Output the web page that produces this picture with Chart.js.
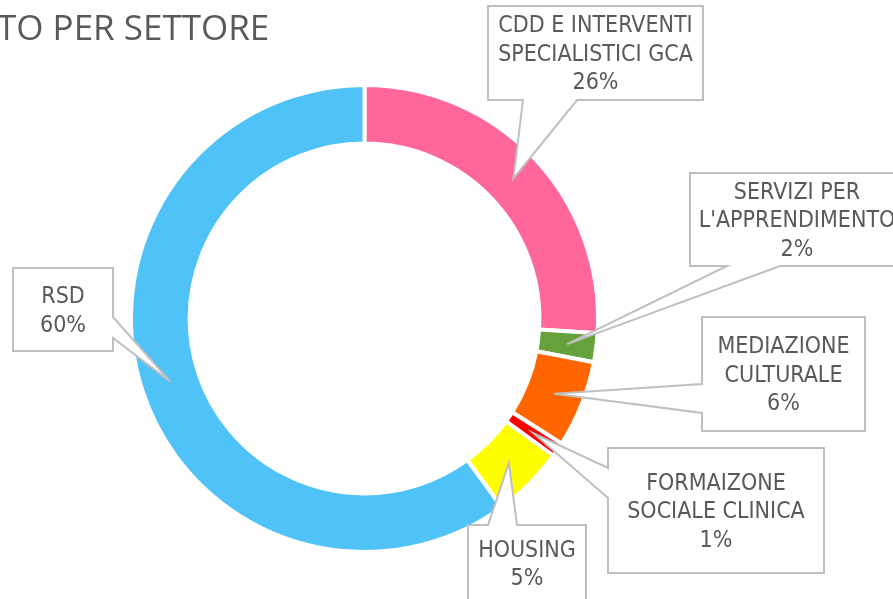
<!DOCTYPE html>
<html>
<head>
<meta charset="utf-8">
<script src="https://cdn.jsdelivr.net/npm/chart.js@4.4.0/dist/chart.umd.min.js"></script>
<style>
  html, body { margin: 0; padding: 0; background: #fff; overflow: hidden; }
  #wrap { position: relative; width: 893px; height: 599px; }
</style>
</head>
<body>
<div id="wrap"><canvas id="chart" width="893" height="599"></canvas></div>
<script>
// Sector names (one entry per label line) and their share of the total, in percent
const sectors = [
  ['CDD E INTERVENTI', 'SPECIALISTICI GCA'],
  ['SERVIZI PER', "L'APPRENDIMENTO"],
  ['MEDIAZIONE', 'CULTURALE'],
  ['FORMAIZONE', 'SOCIALE CLINICA'],
  ['HOUSING'],
  ['RSD'],
];
const shares = [26, 2, 6, 1, 5, 60];
const titleText = 'TO PER SETTORE';

const sliceColors = ['#FF6699', '#66A23C', '#FF6600', '#FF0000', '#FFFF00', '#4FC3F7'];
const textGrey = '#595959';
const lineGrey = '#BFBFBF';

// callout boxes: rectangle plus the side and span where the pointer leaves it
const calloutBoxes = [
  { x: 488, y: 6, w: 215, h: 94, side: 'bottom', base: [523, 577] },
  { x: 690, y: 173, w: 214, h: 93, side: 'bottom', base: [727, 780] },
  { x: 702, y: 317, w: 163, h: 114, side: 'left', base: [384, 413] },
  { x: 608, y: 448, w: 216, h: 125, side: 'left', base: [468, 498] },
  { x: 468, y: 525, w: 118, h: 76, side: 'top', base: [488, 517] },
  { x: 13, y: 268, w: 100, h: 83, side: 'right', base: [317, 338] },
];

function calloutPath(ctx, b, tip) {
  const L = b.x, T = b.y, R = b.x + b.w, B = b.y + b.h;
  const [p, q] = b.base;
  ctx.beginPath();
  ctx.moveTo(L, T);
  if (b.side === 'top') { ctx.lineTo(p, T); ctx.lineTo(tip.x, tip.y); ctx.lineTo(q, T); }
  ctx.lineTo(R, T);
  if (b.side === 'right') { ctx.lineTo(R, p); ctx.lineTo(tip.x, tip.y); ctx.lineTo(R, q); }
  ctx.lineTo(R, B);
  if (b.side === 'bottom') { ctx.lineTo(q, B); ctx.lineTo(tip.x, tip.y); ctx.lineTo(p, B); }
  ctx.lineTo(L, B);
  if (b.side === 'left') { ctx.lineTo(L, q); ctx.lineTo(tip.x, tip.y); ctx.lineTo(L, p); }
  ctx.closePath();
}

// draws the title and the data callouts on top of the ring
const calloutPlugin = {
  id: 'callouts',
  afterDraw(chart) {
    const ctx = chart.ctx;
    const meta = chart.getDatasetMeta(0);
    ctx.save();
    ctx.fillStyle = textGrey;
    ctx.font = '35px "Open Sans"';
    ctx.textAlign = 'left';
    ctx.textBaseline = 'alphabetic';
    ctx.fillText(titleText, -3, 40);

    meta.data.forEach((arc, i) => {
      const b = calloutBoxes[i];
      const tip = arc.getCenterPoint(true);
      calloutPath(ctx, b, tip);
      ctx.fillStyle = '#fff';
      ctx.fill();
      ctx.strokeStyle = lineGrey;
      ctx.lineWidth = 2;
      ctx.lineJoin = 'miter';
      ctx.stroke();

      const lines = sectors[i].concat([shares[i] + '%']);
      const lh = 28.5;
      const cx = b.x + b.w / 2;
      const cy = b.y + b.h / 2 + 2;
      ctx.fillStyle = textGrey;
      ctx.font = '23px "DejaVu Sans Condensed", "DejaVu Sans"';
      ctx.textAlign = 'center';
      ctx.textBaseline = 'middle';
      lines.forEach((t, k) => {
        ctx.fillText(t, cx, cy + (k - (lines.length - 1) / 2) * lh);
      });
    });
    ctx.restore();
  }
};

new Chart(document.getElementById('chart'), {
  type: 'doughnut',
  data: {
    labels: sectors.map((s) => s.join(' ')),
    datasets: [{
      data: shares,
      backgroundColor: sliceColors,
      borderColor: '#FFFFFF',
      borderWidth: 4,
    }],
  },
  options: {
    responsive: false,
    animation: false,
    cutout: '74.9%',
    layout: { padding: { left: 129, top: 83, right: 293, bottom: 45 } },
    plugins: { legend: { display: false }, tooltip: { enabled: false } },
  },
  plugins: [calloutPlugin],
});
</script>
</body>
</html>
